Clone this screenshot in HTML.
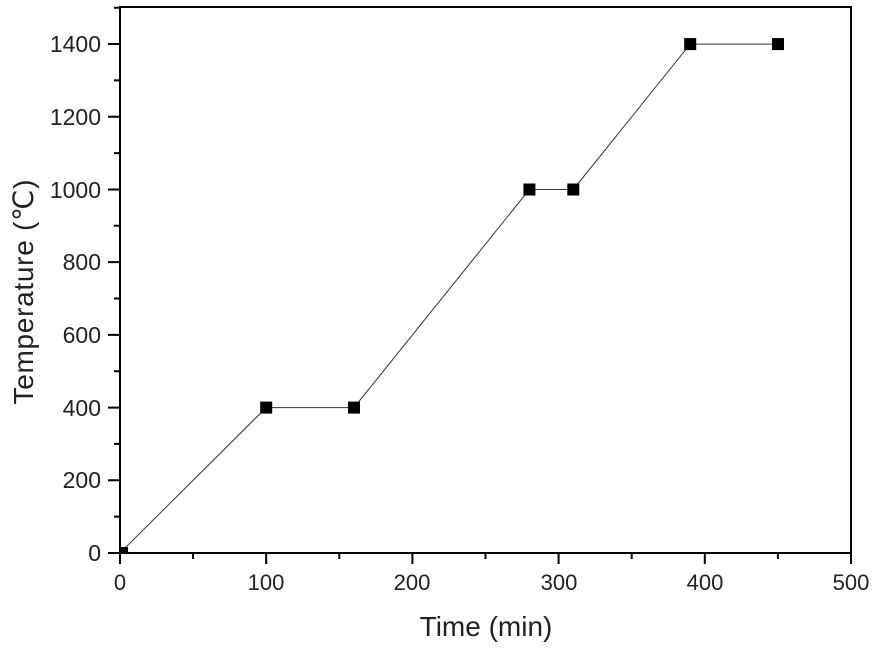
<!DOCTYPE html>
<html><head><style>body{margin:0;background:#fff}</style></head><body>
<svg width="879" height="649" xmlns="http://www.w3.org/2000/svg" font-family="Liberation Sans, DejaVu Sans, sans-serif">
<defs><clipPath id="c"><rect x="120" y="7" width="731" height="546"/></clipPath></defs>
<polyline clip-path="url(#c)" fill="none" stroke="#333" stroke-width="1" points="120,553 266.2,407.6 354,407.6 529.4,189.5 573.3,189.5 690.2,44.1 778,44.1"/>
<g fill="#000" clip-path="url(#c)">
<rect x="116" y="547" width="12" height="12"/>
<rect x="260.2" y="401.6" width="12" height="12"/>
<rect x="348" y="401.6" width="12" height="12"/>
<rect x="523.4" y="183.5" width="12" height="12"/>
<rect x="567.3" y="183.5" width="12" height="12"/>
<rect x="684.2" y="38.1" width="12" height="12"/>
<rect x="772" y="38.1" width="12" height="12"/>
</g>
<rect x="120" y="7" width="731" height="546" fill="none" stroke="#000" stroke-width="2"/>
<g stroke="#000" stroke-width="2">
<path d="M120,553v11M193.1,553v6M266.2,553v11M339.3,553v6M412.4,553v11M485.5,553v6M558.6,553v11M631.7,553v6M704.8,553v11M777.9,553v6M851,553v11"/>
<path d="M120,553h-12M120,516.6h-6M120,480.3h-12M120,443.9h-6M120,407.6h-12M120,371.2h-6M120,334.9h-12M120,298.5h-6M120,262.1h-12M120,225.8h-6M120,189.5h-12M120,153.1h-6M120,116.7h-12M120,80.4h-6M120,44h-12M120,7.7h-6"/>
</g>
<g font-size="23" fill="#222" text-anchor="end">
<text x="101" y="561">0</text><text x="101" y="488">200</text><text x="101" y="416">400</text><text x="101" y="343">600</text><text x="101" y="270">800</text><text x="101" y="198">1000</text><text x="101" y="125">1200</text><text x="101" y="52">1400</text>
</g>
<g font-size="22" fill="#222" text-anchor="middle">
<text x="120" y="590">0</text><text x="266" y="590">100</text><text x="412" y="590">200</text><text x="559" y="590">300</text><text x="705" y="590">400</text><text x="851" y="590">500</text>
</g>
<text x="486" y="636" font-size="28" fill="#222" text-anchor="middle">Time (min)</text>
<text transform="translate(33,292) rotate(-90)" font-size="28" fill="#222" text-anchor="middle" textLength="225">Temperature (℃)</text>
</svg>
</body></html>
